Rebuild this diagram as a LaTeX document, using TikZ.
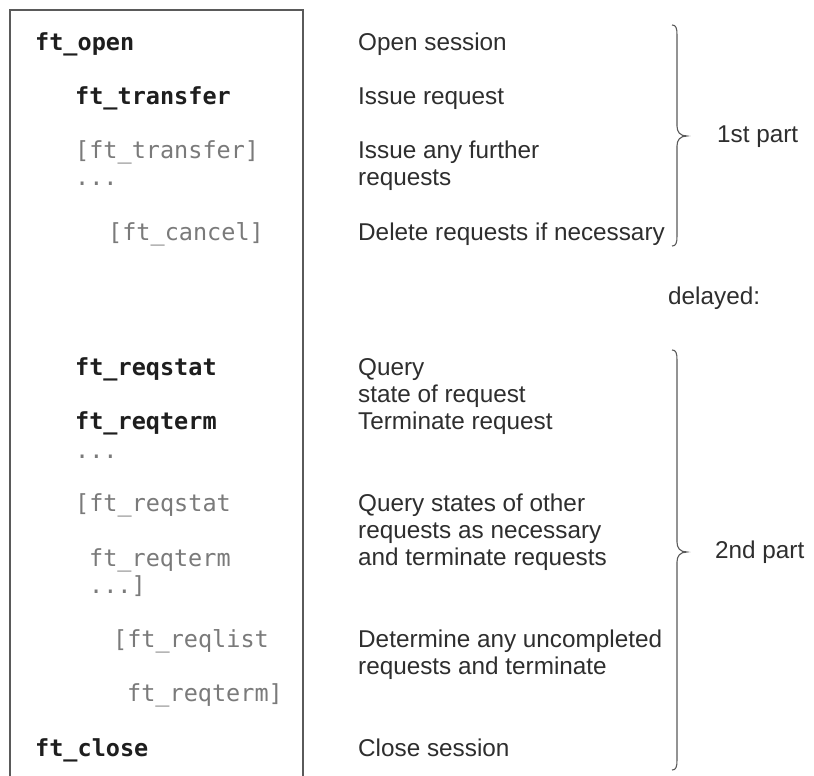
\documentclass[tikz,border=0pt]{standalone}
\usepackage{fontspec}
\setmainfont{Liberation Sans}
\newfontfamily\codefont{DejaVu Sans Mono}
\definecolor{codeblack}{HTML}{1E1E1E}
\definecolor{codegray}{HTML}{7A7A7A}
\definecolor{txt}{HTML}{2E2E2E}
\definecolor{linegray}{HTML}{5A5A5A}
\newcommand{\stacklines}[1]{\vtop{\baselineskip=27pt\lineskiplimit=-10pt #1}}
\tikzset{
  cb/.style={anchor=base west, inner sep=0pt, text=codeblack, font=\fontsize{23.5}{27}\codefont\bfseries},
  cg/.style={anchor=base west, inner sep=0pt, text=codegray, font=\fontsize{23.5}{27}\codefont},
  desc/.style={anchor=base west, inner sep=0pt, text=txt, font=\fontsize{24.3}{27}\selectfont},
  bracepath/.style={draw=linegray, line width=1.1pt},
}
\begin{document}
\begin{tikzpicture}[x=1pt,y=-1pt]
\useasboundingbox (0,0) rectangle (814,776);
\fill[white] (0,0) rectangle (814,776);
% box
\draw[linegray, line width=1.5pt] (10,780) -- (10,10) -- (303,10) -- (303,780);
% left column
\node[cb] (open) at (35,51) {ft\_open};
\node[cb] (tr1) at (75,104) {ft\_transfer};
\node[cg] (tr2) at (75,158) {[ft\_transfer]};
\node[cg] (dots1) at (75,185) {...};
\node[cg] (cancel) at (108,240) {[ft\_cancel]};
\node[cb] (rs1) at (75,375) {ft\_reqstat};
\node[cb] (rt1) at (75,429) {ft\_reqterm};
\node[cg] (dots2) at (75,458) {...};
\node[cg] (rs2) at (75,511) {[ft\_reqstat};
\node[cg] (rt2) at (89,566) {ft\_reqterm};
\node[cg] (dots3) at (89,593) {...]};
\node[cg] (rl) at (113,647) {[ft\_reqlist};
\node[cg] (rt3) at (127,701) {ft\_reqterm]};
\node[cb] (close) at (35,756) {ft\_close};
% right column
\node[desc] (d1) at (358,51) {Open session};
\node[desc] (d2) at (358,104) {Issue request};
\node[desc] (d3) at (358,158) {\stacklines{\hbox{Issue any further}\hbox{requests}}};
\node[desc] (d4) at (358,240) {Delete requests if necessary};
\node[desc] (dl) at (668,304) {delayed:};
\node[desc] (d5) at (358,375) {\stacklines{\hbox{Query}\hbox{state of request}}};
\node[desc] (d6) at (358,429) {Terminate request};
\node[desc] (d7) at (358,511) {\stacklines{\hbox{Query states of other}\hbox{requests as necessary}\hbox{and terminate requests}}};
\node[desc] (d8) at (358,647) {\stacklines{\hbox{Determine any uncompleted}\hbox{requests and terminate}}};
\node[desc] (d9) at (358,756) {Close session};
% braces
\coordinate (b1t) at (672,25);
\coordinate (b1tip) at (687,136);
\coordinate (b1b) at (672,246);
\draw[bracepath] (b1t) .. controls (676,25) and (677,28) .. (677,35) -- (677,126)
  .. controls (677,132) and (680,136) .. (b1tip)
  .. controls (680,136) and (677,140) .. (677,146) -- (677,236)
  .. controls (677,243) and (676,246) .. (b1b);
\node[desc, anchor=west] (p1) at (717,137) {1st part};
\coordinate (b2t) at (672,350);
\coordinate (b2tip) at (687,552);
\coordinate (b2b) at (672,770);
\draw[bracepath] (b2t) .. controls (676,350) and (677,353) .. (677,360) -- (677,542)
  .. controls (677,548) and (680,552) .. (b2tip)
  .. controls (680,552) and (677,556) .. (677,562) -- (677,760)
  .. controls (677,767) and (676,770) .. (b2b);
\node[desc, anchor=west] (p2) at (715,552) {2nd part};
\end{tikzpicture}
\end{document}
